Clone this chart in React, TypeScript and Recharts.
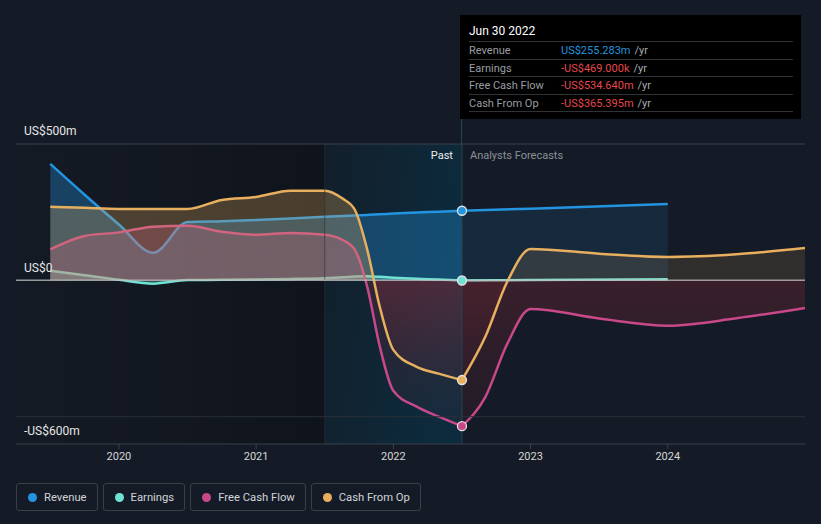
import React from 'react';
import { ComposedChart, Area, XAxis, YAxis, ReferenceLine, ReferenceArea, ReferenceDot } from 'recharts';

// ---- data (US$ millions, dates as decimal years) ----
const dates = [2019.5, 2019.75, 2020.0, 2020.25, 2020.5, 2020.75, 2021.0, 2021.25, 2021.5, 2021.63, 2021.72, 2021.81, 2021.9, 2022.0, 2022.17, 2022.33, 2022.5, 2022.67, 2022.83, 2023.0, 2023.5, 2024.0, 2024.5, 2025.0];
const revenue = [427, 314, 205, 101, 214, 217, 221, 227, 233, 236, 238, 240, 242, 245, 249, 252, 255.283, null, null, 263, null, 280, null, null];
const earnings = [35, 19, 2, -12, 1, 2, 3, 5, 8, 11, 14, 15, 13, 10, 6, 3, -0.469, null, null, 1, null, 4, null, null];
const freeCashFlow = [114, 163, 176, 197, 200, 178, 167, 174, 167, 148, 112, -24, -240, -405, -463, -500, -534.64, -428, -233, -105, -140, -166, -139, -101];
const cashFromOp = [270, 266, 262, 262, 262, 295, 306, 329, 329, 300, 258, 112, -95, -255, -317, -342, -365.395, -207, -5, 115, 98, 86, 96, 119];

const xTicks = [2020, 2021, 2022, 2023, 2024];
const yLabels = [
  { value: 500, text: 'US$500m' },
  { value: 0, text: 'US$0' },
  { value: -600, text: '-US$600m' },
];
const gridValues = [500, -500];
const X_DOMAIN: [number, number] = [2019.25, 2025.0];
const Y_DOMAIN: [number, number] = [-600, 500];
const HIGHLIGHT_START = 2021.5;
const SPLIT = 2022.5;
const tooltipTitle = 'Jun 30 2022';

type Series = {
  key: string; name: string; values: (number | null)[]; color: string;
  negColor: string; pastA: number; futA: number; negPast: [number, number]; negFut: [number, number];
};
const series: Series[] = [
  { key: 'revenue', name: 'Revenue', values: revenue, color: '#2394df', negColor: '#2394df', pastA: 0.33, futA: 0.12, negPast: [0.3, 0.3], negFut: [0.12, 0.12] },
  { key: 'earnings', name: 'Earnings', values: earnings, color: '#6ee3d3', negColor: '#6ee3d3', pastA: 0.3, futA: 0.14, negPast: [0.3, 0.3], negFut: [0.14, 0.14] },
  { key: 'freeCashFlow', name: 'Free Cash Flow', values: freeCashFlow, color: '#c8488a', negColor: '#c83040', pastA: 0.28, futA: 0.14, negPast: [0.18, 0.05], negFut: [0.2, 0.06] },
  { key: 'cashFromOp', name: 'Cash From Op', values: cashFromOp, color: '#e8af5f', negColor: '#c83040', pastA: 0.27, futA: 0.13, negPast: [0.18, 0.05], negFut: [0.1, 0.03] },
];

const rows = dates.map((date, i) => {
  const r: any = { date };
  series.forEach((s) => {
    const v = s.values[i];
    r[s.key + 'Past'] = date <= SPLIT ? v : null;
    r[s.key + 'Future'] = date >= SPLIT ? v : null;
  });
  return r;
});

const valueAt = (s: Series, d: number) => s.values[dates.indexOf(d)] as number;

function zeroOffset(s: Series, past: boolean) {
  const vals = dates
    .map((d, i) => ({ d, v: s.values[i] }))
    .filter((p) => p.v !== null && (past ? p.d <= SPLIT : p.d >= SPLIT))
    .map((p) => p.v as number);
  const hi = Math.max(0, ...vals);
  const lo = Math.min(0, ...vals);
  return hi - lo === 0 ? 1 : hi / (hi - lo);
}

function fmt(v: number) {
  const sign = v < 0 ? '-' : '';
  const a = Math.abs(v);
  if (a < 1) return `${sign}US$${(a * 1000).toFixed(3)}k`;
  return `${sign}US$${a.toFixed(3)}m`;
}

const FONT = 'Roboto, "Noto Sans", sans-serif';

const makeYLabel = (text: string) => (props: any) => {
  const vb = props.viewBox || {};
  return (
    <text x={(vb.x ?? 0) + 8} y={(vb.y ?? 0) - 12} fill="#e6e6e6" fontSize={12} fontFamily={FONT} dominantBaseline="middle">
      {text}
    </text>
  );
};

const SplitLabel = (props: any) => {
  const vb = props.viewBox || {};
  const x = vb.x ?? 0;
  const y = (vb.y ?? 0) + 12;
  return (
    <g fontFamily={FONT} fontSize={11}>
      <text x={x - 9} y={y} fill="#ececec" textAnchor="end" dominantBaseline="middle">Past</text>
      <text x={x + 8} y={y} fill="#8b9097" textAnchor="start" dominantBaseline="middle">Analysts Forecasts</text>
    </g>
  );
};

export default function App() {
  return (
    <div style={{ position: 'absolute', left: 0, top: 0, width: 821, height: 524, background: '#151b26', fontFamily: FONT, overflow: 'hidden' }}>
      <ComposedChart width={821} height={524} data={rows} margin={{ top: 144, right: 16, bottom: 50, left: 16 }}>
        <defs>
          <linearGradient id="pastBg" x1="0" y1="0" x2="1" y2="0">
            <stop offset="0" stopColor="#000" stopOpacity={0.03} />
            <stop offset="1" stopColor="#000" stopOpacity={0.28} />
          </linearGradient>
          <linearGradient id="hlBg" x1="0" y1="0" x2="1" y2="0.3">
            <stop offset="0" stopColor="#05384f" stopOpacity={0.12} />
            <stop offset="1" stopColor="#05384f" stopOpacity={0.55} />
          </linearGradient>
          {series.map((s) =>
            [true, false].map((past) => {
              const z = zeroOffset(s, past);
              const a = past ? s.pastA : s.futA;
              const n = past ? s.negPast : s.negFut;
              return (
                <linearGradient key={s.key + past} id={`g-${s.key}-${past ? 'p' : 'f'}`} x1="0" y1="0" x2="0" y2="1">
                  <stop offset={0} stopColor={s.color} stopOpacity={a} />
                  <stop offset={z} stopColor={s.color} stopOpacity={a} />
                  <stop offset={z} stopColor={s.negColor} stopOpacity={n[0]} />
                  <stop offset={1} stopColor={s.negColor} stopOpacity={n[1]} />
                </linearGradient>
              );
            })
          )}
        </defs>
        <XAxis
          dataKey="date"
          type="number"
          domain={X_DOMAIN}
          ticks={xTicks}
          allowDataOverflow
          tickSize={5}
          tickMargin={3}
          height={30}
          stroke="#3b414b"
          tick={{ fill: '#d6d6d6', fontSize: 11, fontFamily: FONT }}
          tickLine={{ stroke: '#3b414b' }}
          axisLine={{ stroke: '#3b414b' }}
        />
        <YAxis type="number" domain={Y_DOMAIN} hide allowDataOverflow />
        <ReferenceArea x1={X_DOMAIN[0]} x2={HIGHLIGHT_START} y1={Y_DOMAIN[0]} y2={Y_DOMAIN[1]} fill="url(#pastBg)" fillOpacity={1} stroke="none" />
        <ReferenceArea x1={HIGHLIGHT_START} x2={SPLIT} y1={Y_DOMAIN[0]} y2={Y_DOMAIN[1]} fill="url(#hlBg)" fillOpacity={1} stroke="none" />
        <ReferenceLine x={HIGHLIGHT_START} stroke="#24323c" strokeOpacity={0.6} strokeWidth={1} />
        {gridValues.map((g) => (
          <ReferenceLine key={g} y={g} stroke={g > 0 ? '#3b414b' : '#2a3039'} strokeWidth={1} />
        ))}
        {series.map((s) => (
          <Area
            key={s.key + 'p'}
            dataKey={s.key + 'Past'}
            type="monotone"
            stroke={s.color}
            strokeWidth={2.5}
            fill={`url(#g-${s.key}-p)`}
            fillOpacity={1}
            connectNulls
            dot={false}
            activeDot={false}
            isAnimationActive={false}
          />
        ))}
        {series.map((s) => (
          <Area
            key={s.key + 'f'}
            dataKey={s.key + 'Future'}
            type="monotone"
            stroke={s.color}
            strokeWidth={2.5}
            fill={`url(#g-${s.key}-f)`}
            fillOpacity={1}
            connectNulls
            dot={false}
            activeDot={false}
            isAnimationActive={false}
          />
        ))}
        <ReferenceLine y={0} stroke="#c4c4c4" strokeOpacity={0.75} strokeWidth={1.5} />
        {yLabels.map((l) => (
          <ReferenceLine key={'yl' + l.value} y={l.value} stroke="none" label={makeYLabel(l.text)} />
        ))}
        <ReferenceLine x={SPLIT} stroke="#2b4350" strokeWidth={1} label={<SplitLabel />} />
        {series.map((s) => (
          <ReferenceDot key={s.key + 'dot'} x={SPLIT} y={valueAt(s, SPLIT)} r={4.5} fill={s.color} stroke="#e4e4e4" strokeWidth={1.3} />
        ))}
      </ComposedChart>

      {/* connector from tooltip to plot */}
      <div style={{ position: 'absolute', left: 461, top: 119, width: 1, height: 25, background: '#2b4350' }} />

      {/* tooltip */}
      <div style={{ position: 'absolute', left: 460, top: 15, width: 341, height: 104, background: '#000', boxSizing: 'border-box', padding: '8px 8px 0 9px' }}>
        <div style={{ color: '#fff', fontSize: 12, height: 18, lineHeight: '16px' }}>{tooltipTitle}</div>
        {series.map((s) => {
          const v = valueAt(s, SPLIT);
          return (
            <div key={s.key} style={{ display: 'flex', height: 17.5, lineHeight: '17px', borderTop: '1px solid #2e3338', boxSizing: 'border-box', fontSize: 11 }}>
              <span style={{ width: 92, color: '#9a9ea3' }}>{s.name}</span>
              <span style={{ color: v < 0 ? '#e5484d' : '#2394df' }}>{fmt(v)}</span>
              <span style={{ color: '#a8acb0', marginLeft: 4 }}>/yr</span>
            </div>
          );
        })}
        <div style={{ borderTop: '1px solid #2e3338' }} />
      </div>

      {/* legend */}
      <div style={{ position: 'absolute', left: 16, top: 483, display: 'flex', gap: 5 }}>
        {series.map((s) => (
          <div key={s.key} style={{ height: 28, boxSizing: 'border-box', border: '1px solid #3a3f48', borderRadius: 3, display: 'flex', alignItems: 'center', padding: '0 10px 0 11px' }}>
            <span style={{ width: 9, height: 9, borderRadius: '50%', background: s.color, display: 'inline-block' }} />
            <span style={{ marginLeft: 7, color: '#d2d4d7', fontSize: 11.25 }}>{s.name}</span>
          </div>
        ))}
      </div>
    </div>
  );
}
